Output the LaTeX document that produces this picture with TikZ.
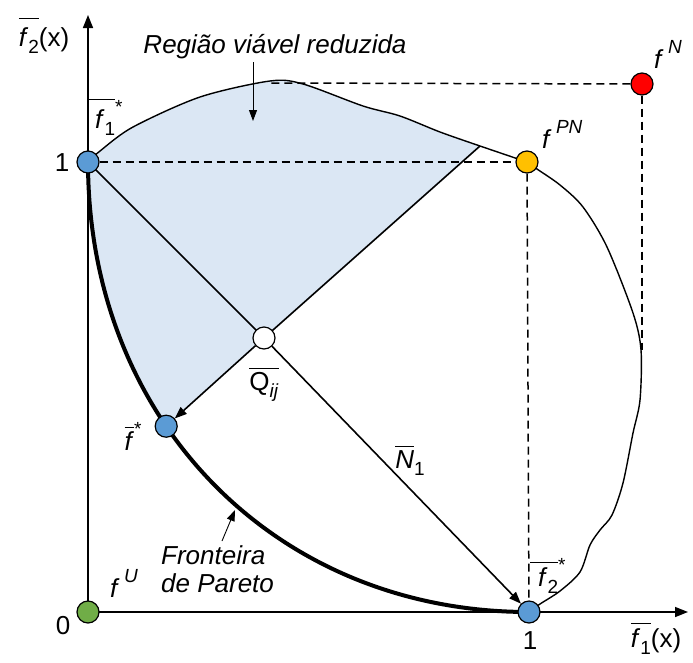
\documentclass[tikz,border=0pt]{standalone}
\usepackage{fontspec}
\setmainfont{Liberation Sans}
\usetikzlibrary{arrows.meta}
\definecolor{ptblue}{HTML}{5B9BD5}
\definecolor{ptred}{HTML}{FF0000}
\definecolor{ptyellow}{HTML}{FFC000}
\definecolor{ptgreen}{HTML}{70AD47}
\definecolor{regfill}{HTML}{DBE7F4}
\newcommand\ovl[2][3pt]{\leavevmode\vbox{\hrule height 1.3pt\kern#1\hbox{#2}}}
\newcommand\lo[1]{\raisebox{-0.3em}{\fontsize{19}{19}\selectfont #1}}
\newcommand\hi[1]{\raisebox{0.55em}{\fontsize{19}{19}\selectfont #1}}
\begin{document}
\begin{tikzpicture}[x=1pt,y=-1pt,
  pt/.style={circle,draw=black,line width=1.2pt,minimum size=22pt,inner sep=0pt},
  lbl/.style={font=\fontsize{26}{28}\selectfont,inner sep=0pt},
  ann/.style={font=\fontsize{26}{28}\selectfont\itshape,inner sep=0pt,align=left},
  axisline/.style={line width=1.5pt,-{Triangle[length=13pt,width=10pt]}},
  curve/.style={line width=1.4pt},
  dashline/.style={line width=1.5pt,dash pattern=on 8pt off 5pt},
  vec/.style={line width=1.6pt,-{Triangle[length=12pt,width=9pt]}},
  note/.style={line width=0.9pt,-{Triangle[length=11pt,width=8pt]}},
  pareto/.style={line width=4pt}
]
\useasboundingbox (0,0) rectangle (693,662);
% key positions
\coordinate (u) at (88,612);
\coordinate (a1) at (88,162);
\coordinate (a2) at (529,612);
\coordinate (q) at (264,338);
\coordinate (s) at (166.2,426.2);
\coordinate (pn) at (527,162);
\coordinate (n) at (642,84);
\coordinate (peak) at (270,83);
\coordinate (cr) at (480,146);
\coordinate (rc) at (642,350);
\coordinate (ytip) at (88,15);
\coordinate (xtip) at (688,612);
\coordinate (nA) at (253,62);
\coordinate (nB) at (253,121);
\coordinate (fA) at (222,541);
\coordinate (fB) at (235,510);
% reduced feasible region
\fill[regfill] plot[smooth] coordinates {(88,162) (100,151) (133,127) (200,97) (270,81) (303,84) (363,106) (400,116) (440,132) (480,146)}
  -- (q) -- (s) .. controls (116.4,353.2) and (88,262.6) .. (a1) -- cycle;
% boundary of objective space
\draw[curve] plot[smooth] coordinates {(88,162) (100,151) (133,127) (200,97) (270,81) (303,84) (363,106) (400,116) (440,132) (480,146) (527,162)};
\draw[curve] plot[smooth] coordinates {(527,162) (537,169) (560,185) (583,207) (607,247) (633,313) (641,350) (640,400) (633,433) (623,483) (612,515) (600,530) (590,545) (580,572) (560,591) (540,604) (529,612)};
% axes
\draw[axisline] (u) -- (ytip);
\draw[axisline] (u) -- (xtip);
% Pareto front
\draw[pareto] (a1) .. controls (88,420) and (275,612) .. (a2);
% lines through Q
\draw[curve,line width=1.6pt] (a1) -- (q);
\draw[curve,line width=1.6pt] (q) -- (cr);
% points
\node[pt,fill=ptblue] (P1) at (a1) {};
\node[pt,fill=ptblue] (P2) at (a2) {};
\node[pt,fill=ptblue] (FS) at (s) {};
\node[pt,fill=white] (Q) at (q) {};
\node[pt,fill=ptyellow] (PPN) at (pn) {};
\node[pt,fill=ptred] (PN) at (n) {};
\node[pt,fill=ptgreen] (PU) at (u) {};
% dashed guides
\draw[dashline] (P1) -- (PPN);
\draw[dashline] (PPN) -- (P2);
\draw[dashline] (PN) -- (peak);
\draw[dashline] (PN) -- (rc);
% arrows
\draw[vec] (Q) -- (P2);
\draw[vec] (Q) -- (FS);
\draw[note] (nA) -- (nB);
\draw[note] (fA) -- (fB);
% labels
\node[lbl,anchor=base] (ylab) at (44,46) {\ovl[8pt]{\textit{f}\lo{2}}(x)};
\node[lbl,anchor=base west] (f1s) at (88,128) {\ovl[9pt]{\hspace{7pt}\textit{f}\lo{1}}\hi{*}};
\node[lbl] (one1) at (62,163) {1};
\node[lbl] (zero) at (63,626) {0};
\node[lbl] (one2) at (530,641) {1};
\node[lbl,anchor=base] (xlab) at (656,647) {\ovl[4pt]{\textit{f}\lo{1}}(x)};
\node[lbl,anchor=base west] (fU) at (110,597) {\textit{f}\,\hi{\textit{U}}};
\node[lbl,anchor=base west] (fN) at (654,68) {\textit{f}\,\hi{\textit{N}}};
\node[lbl,anchor=base west] (fPN) at (542,148) {\textit{f}\,\hi{\textit{PN}}};
\node[lbl,anchor=base] (Qlab) at (264,390) {\ovl[3pt]{Q\lo{\textit{ij}}}};
\node[lbl,anchor=base] (fslab) at (133,450) {\ovl[3pt]{\textit{f}}\hi{*}};
\node[lbl,anchor=base] (N1lab) at (410,468) {\ovl[3pt]{\textit{N}}\lo{1}};
\node[lbl,anchor=base west] (f2s) at (530,586) {\ovl[4pt]{\hspace{8pt}\textit{f}\lo{2}}\hi{*}};
\node[ann] (reg) at (275,47) {Região viável reduzida};
\node[ann,anchor=north west] (front) at (161,545) {Fronteira\\de Pareto};
\end{tikzpicture}
\end{document}
